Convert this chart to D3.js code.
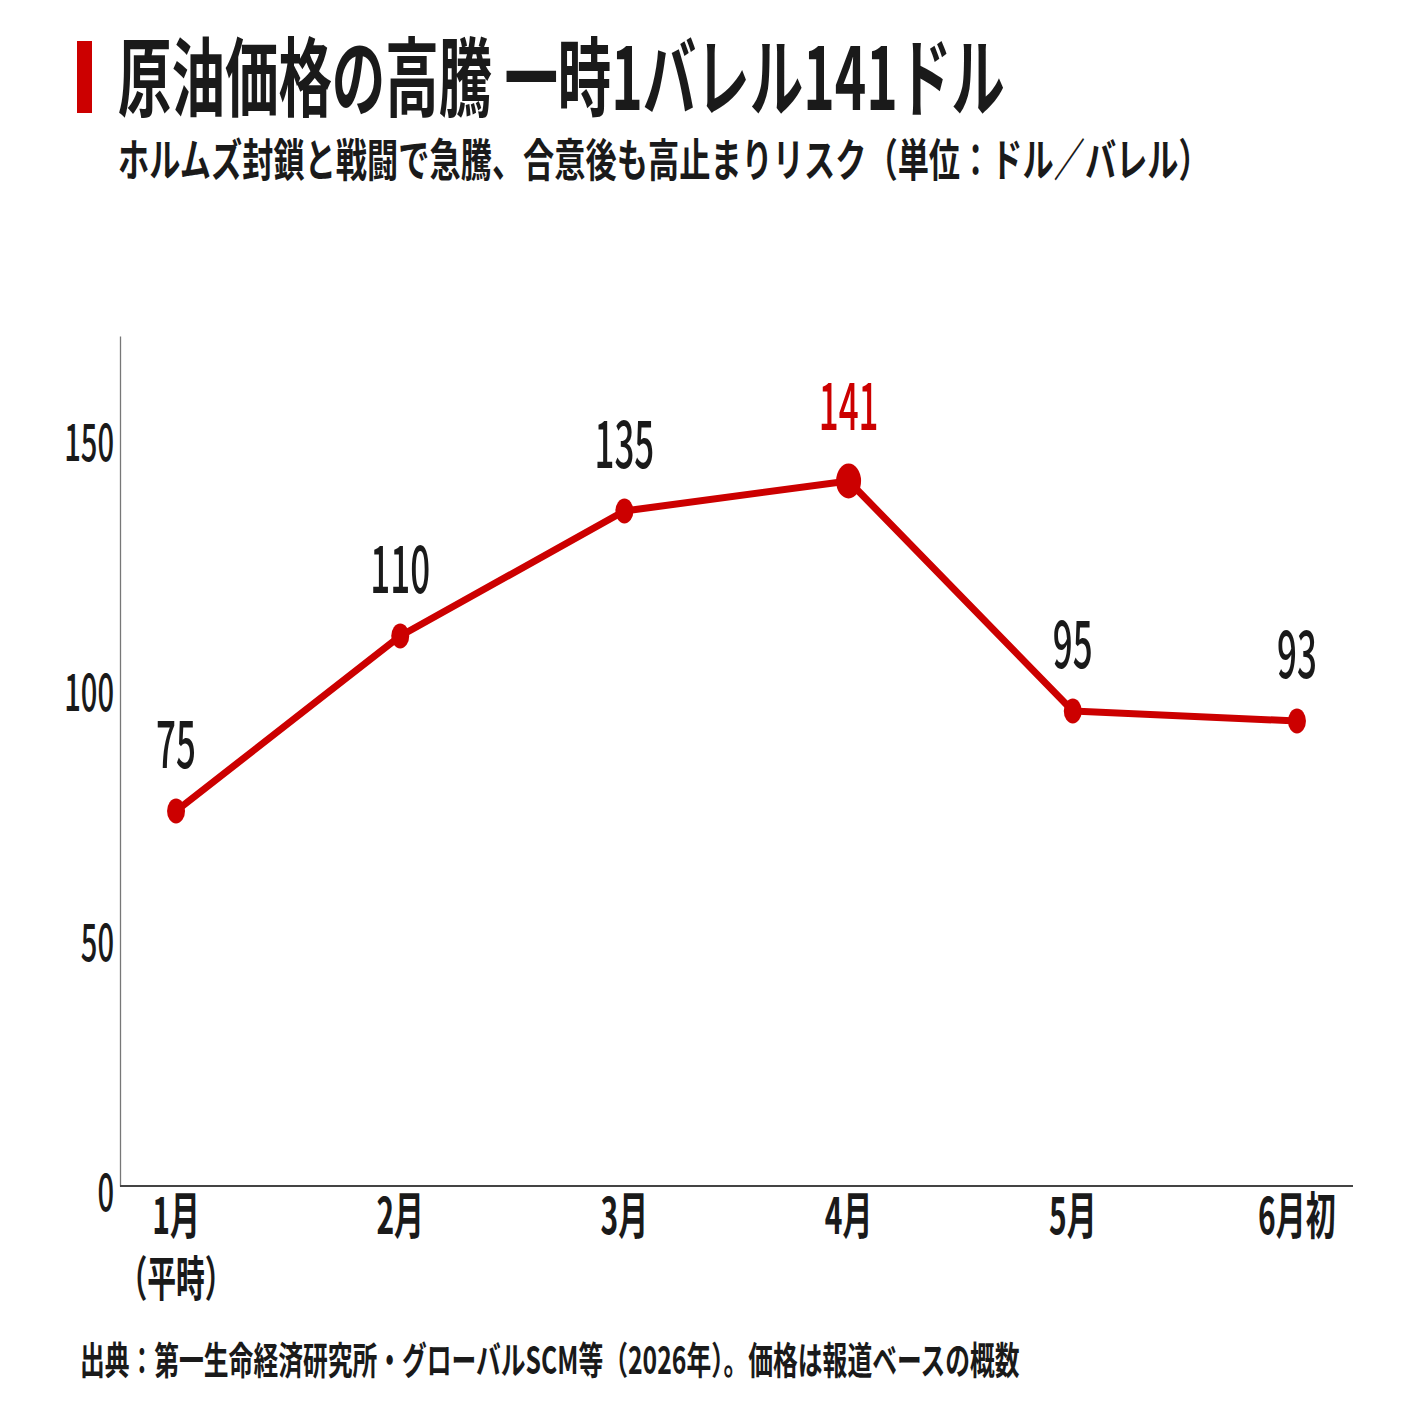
<!DOCTYPE html>
<html>
<head>
<meta charset="utf-8">
<script src="https://cdn.jsdelivr.net/npm/d3@7"></script>
<style>
  body { margin: 0; background: #fff; }
  text { font-family: "Noto Sans CJK JP", "Noto Sans", sans-serif; }
</style>
</head>
<body>
<svg id="chart" width="1410" height="1410"></svg>
<script>
// data
const months = ["1月", "2月", "3月", "4月", "5月", "6月初"];
const subLabels = ["（平時）", "", "", "", "", ""];
const prices = [75, 110, 135, 141, 95, 93];
const yTicks = [0, 50, 100, 150];
const peakIndex = 3;

const titleText = "原油価格の高騰 一時1バレル141ドル";
const subtitleText = "ホルムズ封鎖と戦闘で急騰、合意後も高止まりリスク（単位：ドル／バレル）";
const sourceText = "出典：第一生命経済研究所・グローバルSCM等（2026年）。価格は報道ベースの概数";

const red = "#cc0000";
const ink = "#1a1a1a";
const squeeze = 0.56;   // the type in the picture is narrow

const svg = d3.select("#chart");

const x = d3.scalePoint().domain(months).range([120, 1353]).padding(0.25);
const y = d3.scaleLinear().domain([0, 170]).range([1186, 336]);

// place a text at (px,py), squeezed, optionally fitted to a width
function putText(str, px, py, opts) {
    let t = svg.append("text")
               .text(str)
               .attr("text-anchor", opts.anchor || "start")
               .attr("dominant-baseline", "central")
               .attr("font-size", opts.size)
               .attr("font-weight", opts.weight || 700)
               .attr("fill", opts.fill || ink);
    let s = opts.scale || squeeze;
    if (opts.width) {
        s = opts.width / t.node().getComputedTextLength();
    }
    t.attr("transform", `translate(${px},${py}) scale(${s},1)`);
    return t;
}

// header
svg.append("rect")
   .attr("x", 77).attr("y", 41)
   .attr("width", 15).attr("height", 72)
   .attr("fill", red);
putText(titleText, 118, 73, { size: 86, weight: 700, width: 887 });
putText(subtitleText, 118, 157, { size: 45, weight: 700, width: 1092 });

// axes
let yAxis = svg.append("g")
               .attr("transform", `translate(${x.range()[0]},0)`)
               .call(d3.axisLeft(y).tickValues(yTicks).tickSize(0).tickPadding(0));
yAxis.select(".domain").attr("stroke", "#777").attr("stroke-width", 1.3);
yAxis.selectAll(".tick text")
     .attr("x", null).attr("dy", null)
     .attr("dominant-baseline", "central")
     .attr("font-size", 52)
     .attr("font-weight", 500)
     .attr("fill", ink)
     .attr("font-family", "Noto Sans CJK JP")
     .attr("transform", `translate(-6,2) scale(${squeeze},1)`);

svg.append("line")
   .attr("x1", x.range()[0]).attr("x2", x.range()[1])
   .attr("y1", y(0)).attr("y2", y(0))
   .attr("stroke", "#444")
   .attr("stroke-width", 2.2);

// month labels, second line in the same text
months.forEach(function(m, i) {
    let t = putText(m, x(m), 1212, { size: 50, weight: 700, anchor: "middle", scale: 0.6 });
    if (subLabels[i]) {
        t.append("tspan")
         .attr("x", 0)
         .attr("dy", 62)
         .attr("font-size", 48)
         .text(subLabels[i]);
    }
});

// price line
const line = d3.line()
               .x((d, i) => x(months[i]))
               .y(d => y(d));

svg.append("path")
   .datum(prices)
   .attr("d", line)
   .attr("fill", "none")
   .attr("stroke", red)
   .attr("stroke-width", 7)
   .attr("stroke-linejoin", "round");

svg.append("g")
   .selectAll("ellipse")
   .data(prices)
   .join("ellipse")
   .attr("cx", (d, i) => x(months[i]))
   .attr("cy", d => y(d))
   .attr("rx", (d, i) => i === peakIndex ? 12.5 : 9)
   .attr("ry", (d, i) => i === peakIndex ? 17.5 : 12.5)
   .attr("fill", red);

prices.forEach(function(v, i) {
    let peak = i === peakIndex;
    putText(String(v), x(months[i]), y(v) - (peak ? 80 : 72),
            { size: 66, weight: 500, anchor: "middle", fill: peak ? red : ink, scale: 0.53 });
});

// source note
putText(sourceText, 80, 1357, { size: 38, weight: 700, width: 940 });
</script>
</body>
</html>
